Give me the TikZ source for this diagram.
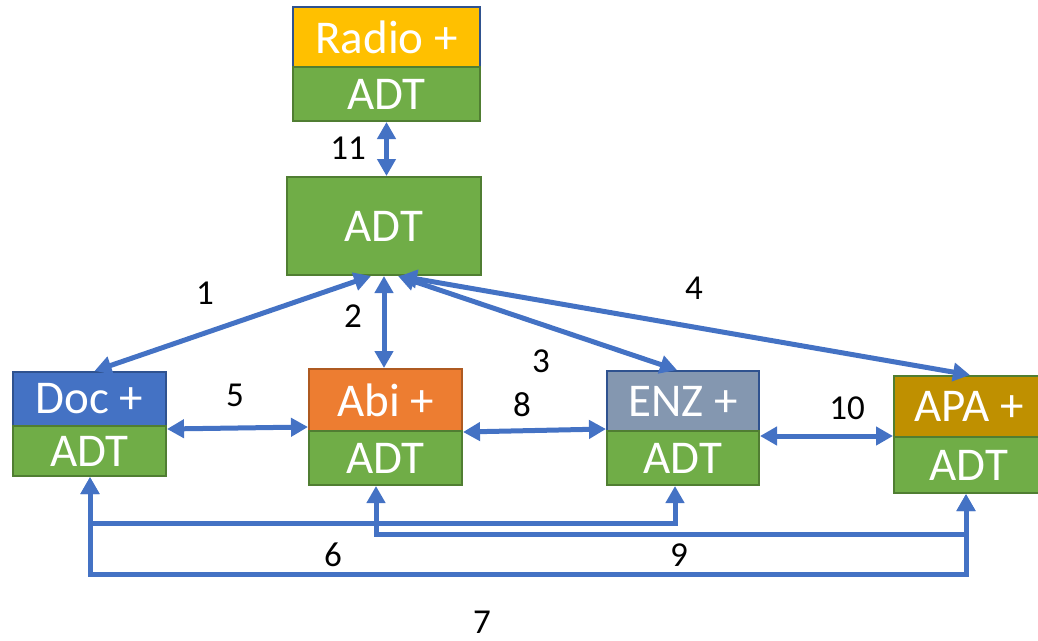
\documentclass[tikz,border=0pt]{standalone}
\usepackage{fontspec}
\setmainfont{Carlito}
\usetikzlibrary{arrows.meta}
\definecolor{ablue}{HTML}{4472C4}
\definecolor{bblue}{HTML}{2F528F}
\definecolor{agreen}{HTML}{70AD47}
\definecolor{bgreen}{HTML}{507E32}
\definecolor{aorange}{HTML}{ED7D31}
\definecolor{borange}{HTML}{AE5A21}
\definecolor{ayellow}{HTML}{FFC000}
\definecolor{agrey}{HTML}{8497B0}
\definecolor{aolive}{HTML}{BF9000}
\tikzset{
  box/.style={rectangle, draw, line width=2pt, text=white, inner sep=0pt,
    font=\fontsize{47}{47}\selectfont},
  gbox/.style={box, fill=agreen, draw=bgreen},
  lbl/.style={font=\fontsize{35}{35}\selectfont, text=black, inner sep=0pt},
  conn/.style={draw=ablue, line width=5pt,
    {Triangle[length=17pt,width=18pt]}-{Triangle[length=17pt,width=18pt]}},
}
\begin{document}
\begin{tikzpicture}[x=1pt,y=-1pt]
\useasboundingbox (0,0) rectangle (1038,640);
% boxes
\node[box, fill=ayellow, draw=bblue, minimum width=187pt, minimum height=60pt] (radioT) at (386.5,37) {Radio +};
\node[gbox, minimum width=187pt, minimum height=54pt] (radioB) at (386.5,94) {ADT};
\node[gbox, minimum width=194pt, minimum height=98pt] (main) at (384,226) {ADT};
\node[box, fill=ablue, draw=bblue, minimum width=153pt, minimum height=54pt] (docT) at (89.5,399) {Doc +};
\node[gbox, minimum width=153pt, minimum height=50pt] (docB) at (89.5,451) {ADT};
\node[box, fill=aorange, draw=borange, minimum width=153pt, minimum height=62pt] (abiT) at (385.5,400) {Abi +};
\node[gbox, minimum width=153pt, minimum height=54pt] (abiB) at (385.5,458) {ADT};
\node[box, fill=agrey, draw=bblue, minimum width=152pt, minimum height=60pt] (enzT) at (683,401) {ENZ +};
\node[gbox, minimum width=152pt, minimum height=54pt] (enzB) at (683,458) {ADT};
\node[box, fill=aolive, draw=bgreen, minimum width=150pt, minimum height=61pt] (apaT) at (969,406.5) {APA +};
\node[gbox, minimum width=150pt, minimum height=56pt] (apaB) at (969,465) {ADT};
% helper coordinates for the bottom lines
\coordinate (yA) at (0,523);
\coordinate (yB) at (0,534);
\coordinate (yC) at (0,574);
\coordinate (docP) at ([xshift=0.5pt]docB.south);
\coordinate (abiP) at ([xshift=-9.5pt]abiB.south);
\coordinate (enzP) at ([xshift=-8pt]enzB.south);
\coordinate (apaP) at ([xshift=-3pt]apaB.south);
% connectors
\draw[conn] (radioB.south) -- (radioB.south |- main.north);
\draw[conn] ([xshift=-13pt]main.south) -- ([xshift=5pt]docT.north);
\draw[conn] (main.south) -- (main.south |- abiT.north);
\draw[conn] ([xshift=14pt]main.south) -- ([xshift=-6pt]enzT.north);
\draw[conn] ([xshift=16pt]main.south) -- ([xshift=1pt]apaT.north);
\draw[conn] ([yshift=-2pt]docT.south east) -- ([yshift=5pt]abiT.south west);
\draw[conn] (abiT.south east) -- ([yshift=3pt]enzT.south west);
\draw[conn] ([yshift=-4pt]enzT.south east) -- ([yshift=2pt]apaT.south west);
\draw[conn] (docP) -- (docP |- yA) -| (enzP);
\draw[conn] (abiP) -- (abiP |- yB) -| (apaP);
\draw[conn] (docP) -- (docP |- yC) -| (apaP);
% labels
\node[lbl] (l1) at (205,293) {1};
\node[lbl] (l2) at (353,316) {2};
\node[lbl] (l3) at (541,361) {3};
\node[lbl] (l4) at (694,288) {4};
\node[lbl] (l5) at (235,395) {5};
\node[lbl] (l6) at (333,555) {6};
\node[lbl] (l7) at (482,622) {7};
\node[lbl] (l8) at (522,405) {8};
\node[lbl] (l9) at (679,555) {9};
\node[lbl] (l10) at (847,408) {10};
\node[lbl] (l11) at (348,148) {11};
\end{tikzpicture}
\end{document}
